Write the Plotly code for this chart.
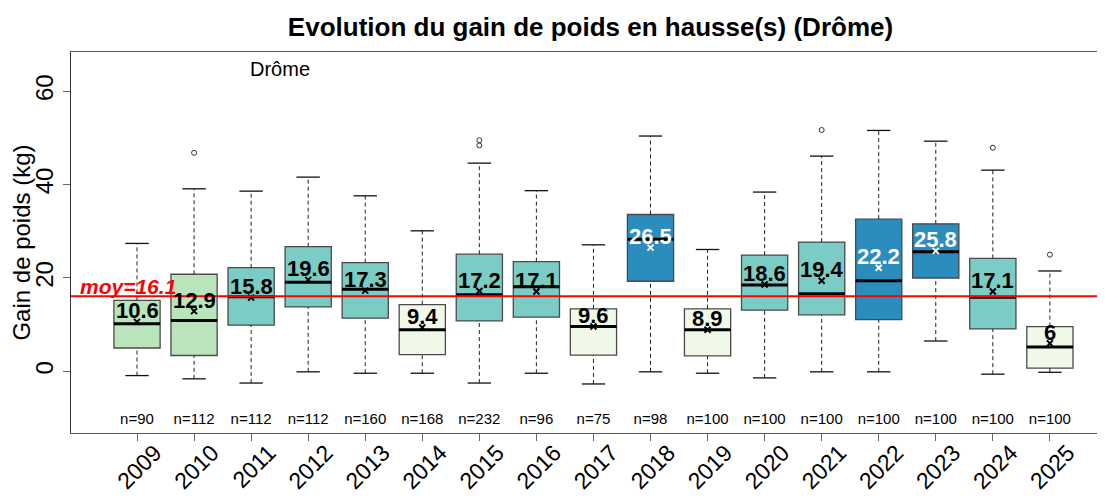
import plotly.graph_objects as go

YEARS = ["2009", "2010", "2011", "2012", "2013", "2014", "2015", "2016", "2017",
         "2018", "2019", "2020", "2021", "2022", "2023", "2024", "2025"]
Q1 = [5.0, 3.4, 9.9, 13.8, 11.4, 3.6, 10.8, 11.6, 3.5, 19.3, 3.3, 13.1, 12.1, 11.1, 20.0, 9.1, 0.7]
MEDIAN = [10.2, 10.9, 16.0, 19.1, 17.6, 8.9, 16.4, 18.1, 9.6, 28.3, 8.9, 18.5, 16.6, 19.4, 25.6, 15.9, 5.2]
Q3 = [15.2, 20.8, 22.2, 26.7, 23.3, 14.3, 25.1, 23.5, 13.4, 33.6, 13.4, 24.9, 27.7, 32.6, 31.6, 24.2, 9.6]
WHISK_LO = [-0.9, -1.6, -2.5, -0.1, -0.4, -0.4, -2.5, -0.4, -2.7, -0.1, -0.4, -1.4, -0.1, -0.1, 6.5, -0.6, -0.2]
WHISK_HI = [27.4, 39.1, 38.6, 41.6, 37.6, 30.1, 44.6, 38.7, 27.1, 50.4, 26.1, 38.4, 46.1, 51.6, 49.3, 43.1, 21.5]
MEANS = [10.6, 12.9, 15.8, 19.6, 17.3, 9.4, 17.2, 17.1, 9.6, 26.5, 8.9, 18.6, 19.4, 22.2, 25.8, 17.1, 6]
N_OBS = [90, 112, 112, 112, 160, 168, 232, 96, 75, 98, 100, 100, 100, 100, 100, 100, 100]
OUTLIER_YEARS = ["2010", "2015", "2015", "2021", "2024", "2025"]
OUTLIER_VALUES = [46.8, 49.5, 48.4, 51.7, 47.9, 25.0]
LEVEL = [1, 1, 2, 2, 2, 0, 2, 2, 0, 3, 0, 2, 2, 3, 3, 2, 0]
OVERALL_MEAN = 16.1
REGION = "Drôme"
TITLE = "Evolution du gain de poids en hausse(s) (Drôme)"

PALETTE = {0: "#F0F9E8", 1: "#BAE4BC", 2: "#7BCCC4", 3: "#2B8CBE"}
FONT = "Liberation Sans, Arial, sans-serif"
BOX_W = 0.81
CAP_W = 0.41

fig = go.Figure()
pos = list(range(len(YEARS)))

for i, yr in enumerate(YEARS):
    # dashed whiskers
    fig.add_trace(go.Scatter(
        x=[i, i, None, i, i], y=[WHISK_LO[i], Q1[i], None, Q3[i], WHISK_HI[i]],
        mode="lines", line=dict(color="#222222", width=1, dash="4px,3px"),
        hoverinfo="skip", showlegend=False))
    # caps
    fig.add_trace(go.Scatter(
        x=[i - CAP_W / 2, i + CAP_W / 2, None, i - CAP_W / 2, i + CAP_W / 2],
        y=[WHISK_LO[i], WHISK_LO[i], None, WHISK_HI[i], WHISK_HI[i]],
        mode="lines", line=dict(color="#111111", width=1.3),
        hoverinfo="skip", showlegend=False))
    # box
    fig.add_trace(go.Box(
        x=[i], q1=[Q1[i]], median=[MEDIAN[i]], q3=[Q3[i]],
        lowerfence=[Q1[i]], upperfence=[Q3[i]],
        width=BOX_W, whiskerwidth=0,
        fillcolor=PALETTE[LEVEL[i]], line=dict(color="#4a4a4a", width=1.3),
        hoverinfo="skip", showlegend=False))
    # median
    fig.add_trace(go.Scatter(
        x=[i - BOX_W / 2, i + BOX_W / 2], y=[MEDIAN[i], MEDIAN[i]],
        mode="lines", line=dict(color="#000000", width=3),
        hoverinfo="skip", showlegend=False))

# overall mean line
fig.add_hline(y=OVERALL_MEAN, line=dict(color="#FF0000", width=2))

# outliers
fig.add_trace(go.Scatter(
    x=[YEARS.index(y) for y in OUTLIER_YEARS], y=OUTLIER_VALUES, mode="markers",
    marker=dict(symbol="circle-open", size=5, color="#333333", line=dict(width=1)),
    hoverinfo="skip", showlegend=False))

# mean markers
mean_cols = ["#FFFFFF" if LEVEL[i] == 3 else "#000000" for i in pos]
fig.add_trace(go.Scatter(
    x=pos, y=MEANS, mode="markers",
    marker=dict(symbol="x-thin", size=6, line=dict(width=2, color=mean_cols)),
    hoverinfo="skip", showlegend=False))

# mean labels
for i in pos:
    fig.add_annotation(x=i, y=MEANS[i], yshift=11, text=f"{MEANS[i]:g}",
                       showarrow=False, xanchor="center", yanchor="middle",
                       font=dict(family=FONT, size=22, color=mean_cols[i], weight="bold"))

# n labels
fig.add_trace(go.Scatter(
    x=pos, y=[-10.4] * len(YEARS), mode="text",
    text=[f"n={n}" for n in N_OBS], textposition="middle center",
    textfont=dict(family=FONT, size=15, color="#000000"),
    hoverinfo="skip", showlegend=False))

fig.add_annotation(x=-1, y=OVERALL_MEAN, text="moy=16.1", showarrow=False,
                   xanchor="left", yanchor="bottom", xshift=-2, yshift=-4,
                   font=dict(family=FONT, size=21, color="#FF0000", weight="bold", style="italic"))

fig.add_annotation(x=2.5, y=64.8, text=REGION, showarrow=False,
                   xanchor="center", yanchor="middle",
                   font=dict(family=FONT, size=20, color="#000000"))

fig.update_layout(
    width=1097, height=488,
    margin=dict(l=63, r=0, t=44, b=63),
    paper_bgcolor="white", plot_bgcolor="white",
    title=dict(text=f"<b>{TITLE}</b>", x=0.531, xref="container", xanchor="center",
               y=0.961, yref="container", yanchor="middle", automargin=False,
               font=dict(family=FONT, size=26, color="#000000")),
    xaxis=dict(range=[-1.157, 16.966], tickmode="array", tickvals=pos, ticktext=YEARS,
               tickangle=-45, tickfont=dict(family=FONT, size=23, color="#000000"),
               ticks="outside", ticklen=7, tickcolor="#666666", automargin=False,
               showline=True, linecolor="#555555", linewidth=1.3, mirror=True,
               showgrid=False, zeroline=False, ticklabelshift=18, ticklabelstandoff=-11),
    yaxis=dict(range=[-13.2, 68.4], tickvals=[0, 20, 40, 60], tickangle=-90,
               tickfont=dict(family=FONT, size=24, color="#000000"),
               ticks="outside", ticklen=7, tickcolor="#666666", automargin=False,
               showline=True, linecolor="#333333", linewidth=1.3,
               showgrid=False, zeroline=False,
               title=dict(text="Gain de poids (kg)", standoff=2,
                          font=dict(family=FONT, size=24, color="#000000"))),
    boxmode="overlay",
)

fig.write_html("out.html")
